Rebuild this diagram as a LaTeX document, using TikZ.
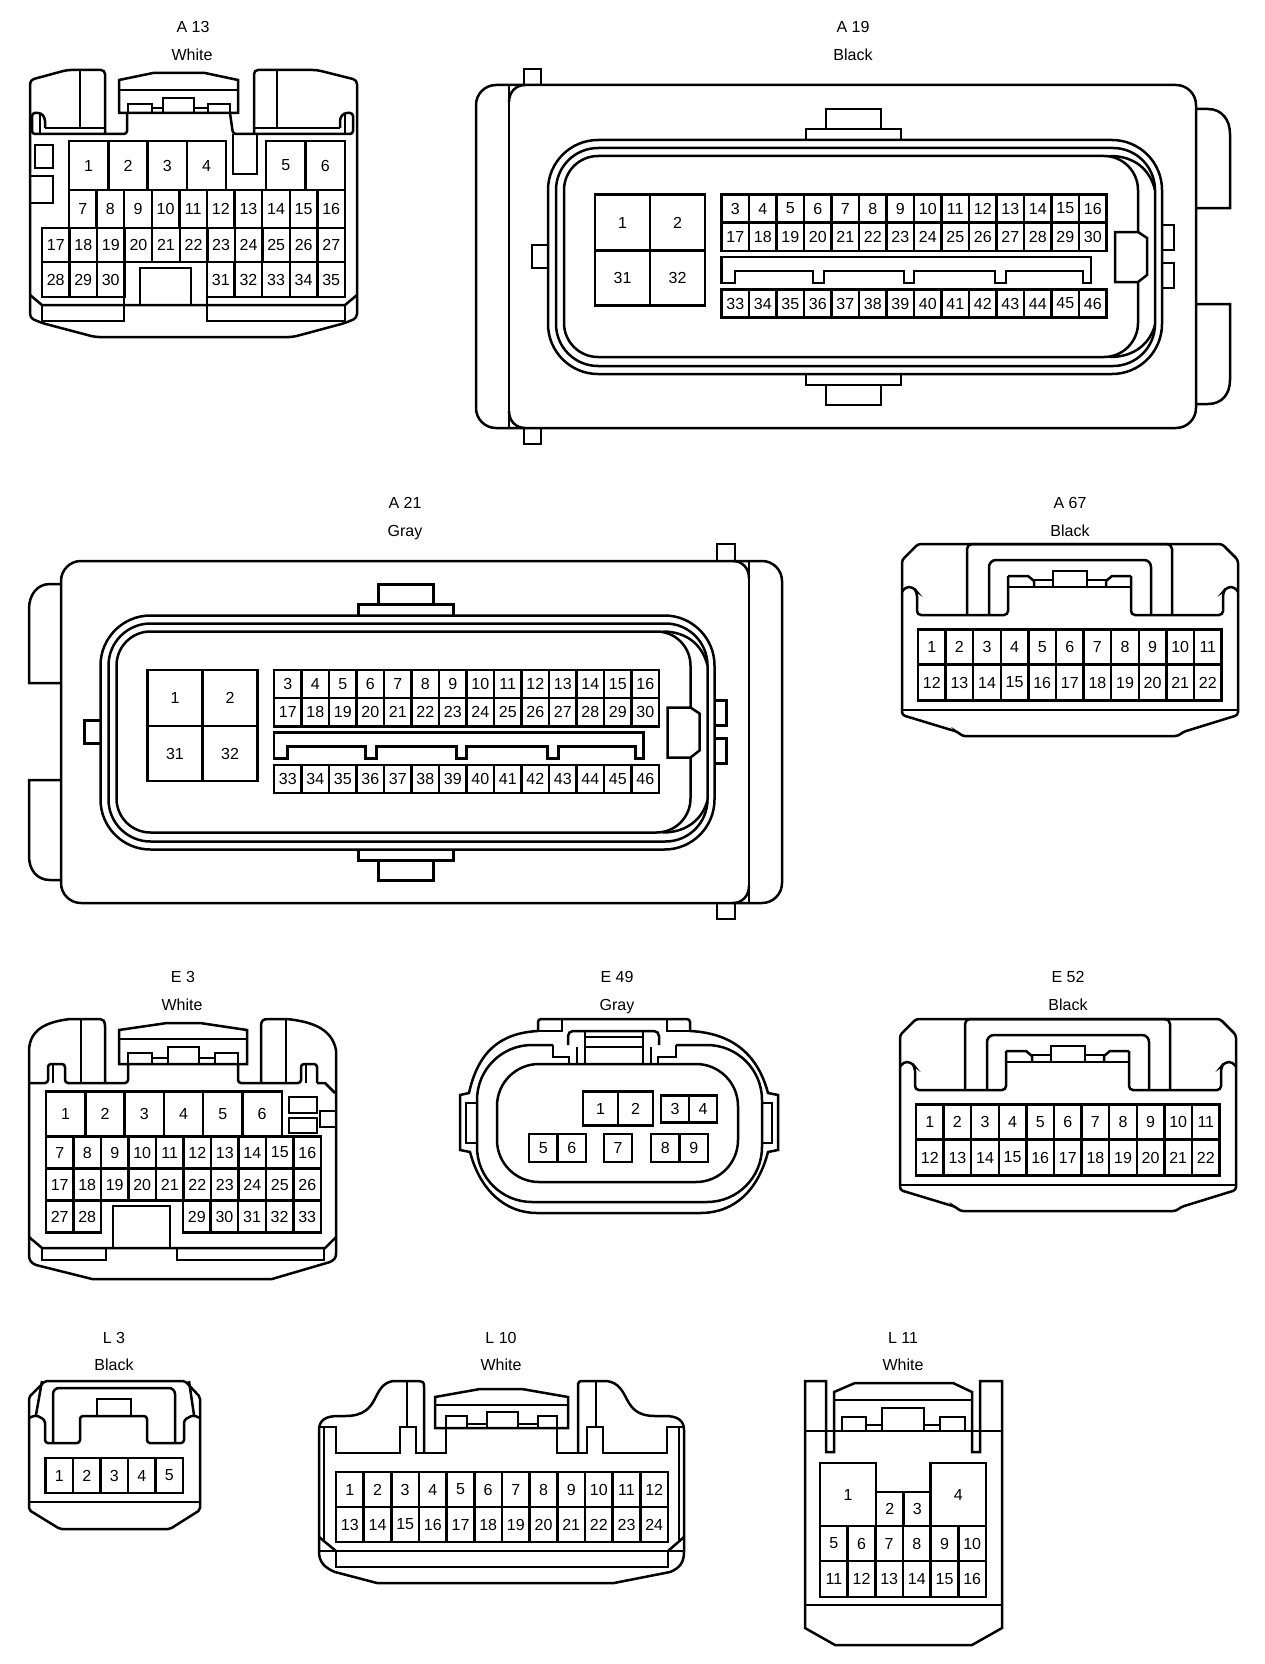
\documentclass[tikz,border=0pt]{standalone}
\usepackage{fontspec}
\setmainfont{Liberation Sans}
\usetikzlibrary{positioning}

\tikzset{
    pin/.style={draw, rectangle, inner sep=0pt, outer sep=0pt, font=\fontsize{16}{18}\selectfont},
    conname/.style={inner sep=0pt, text height=11.5pt, text depth=0pt, font=\fontsize{16}{18}\selectfont},
}

% one row of cavities: prefix, left, top, cell width, cell height, numbers
\newcommand{\pinrow}[6]{%
    \foreach \n [count=\i from 0] in {#6} {
        \node[pin, minimum width=#4pt, minimum height=#5pt] (#1-\n) at ({#2+(\i+0.5)*#4},{#3+0.5*#5}) {\n};
    }%
}

% seal, keys and cavities shared by A 19 and A 21
\newcommand{\sealblock}[1]{%
    \draw (806,140) -- (806,129) -- (901,129) -- (901,140);
    \draw (826,129) -- (826,109) -- (881,109) -- (881,129);
    \draw (806,374) -- (806,385) -- (901,385) -- (901,374);
    \draw (826,385) -- (826,405) -- (881,405) -- (881,385);
    \draw[rounded corners=50pt] (548,140) rectangle (1162,374);
    \draw[rounded corners=42pt] (556,148) rectangle (1155,366);
    \draw[rounded corners=34pt] (1138,232) -- (1138,156) -- (564,156) -- (564,357) -- (1138,357) -- (1138,282);
    \draw (1110,156) .. controls (1135,156) and (1150,170) .. (1155,190);
    \draw (1110,357) .. controls (1135,357) and (1150,343) .. (1155,325);
    \draw (1138,232) -- (1115,232) -- (1115,282) -- (1138,282) -- (1147,275) -- (1147,238) -- cycle;
    \draw (548,245) -- (532,245) -- (532,268) -- (548,268);
    \draw (1162,225) -- (1174,225) -- (1174,250) -- (1162,250);
    \draw (1162,263) -- (1174,263) -- (1174,288) -- (1162,288);
    \pinrow{#1}{595}{194.5}{55}{56}{1,2}
    \pinrow{#1}{595}{250.5}{55}{55}{31,32}
    \pinrow{#1}{721.5}{194.5}{27.5}{28}{3,4,5,6,7,8,9,10,11,12,13,14,15,16}
    \pinrow{#1}{721.5}{222.5}{27.5}{28.5}{17,18,19,20,21,22,23,24,25,26,27,28,29,30}
    \pinrow{#1}{721.5}{289.5}{27.5}{28}{33,34,35,36,37,38,39,40,41,42,43,44,45,46}
    \draw (721.5,257) -- (1091,257) -- (1091,283) -- (1083,283) -- (1083,271) -- (1006,271) -- (1006,283) -- (995,283) -- (995,271) -- (914,271) -- (914,283) -- (904,283) -- (904,271) -- (824,271) -- (824,283) -- (813,283) -- (813,271) -- (735,271) -- (735,283) -- (721.5,283) -- cycle;
}

% body of the 22 way connector, A 67 and E 52
\newcommand{\twentytwo}[1]{%
    \draw[rounded corners=3pt] (902,560) -- (918,544) -- (1222,544) -- (1238,560) -- (1238,715) -- (1183,732) -- (1178,736) -- (962,736) -- (958,732) -- (902,715) -- cycle;
    \draw[rounded corners=4pt] (902,592) -- (905,587) -- (913,587) -- (917,592) -- (917,615) -- (1008,615) -- (1008,576);
    \draw[rounded corners=4pt] (1131,576) -- (1131,615) -- (1223,615) -- (1223,592) -- (1227,587) -- (1235,587) -- (1238,592);
    \draw (1008,587) -- (1131,587);
    \draw (1008,576) -- (1028,576) -- (1034,581) -- (1034,587);
    \draw (1034,580) -- (1053,580);
    \draw (1053,587) -- (1053,571) -- (1087,571) -- (1087,587);
    \draw (1087,580) -- (1106,580);
    \draw (1106,587) -- (1106,581) -- (1112,576) -- (1131,576);
    \draw[rounded corners=5pt] (967,615) -- (967,544) -- (1172,544) -- (1172,615);
    \draw[rounded corners=7pt] (989,615) -- (989,560) -- (1151,560) -- (1151,615);
    \draw (902,710) -- (1238,710);
    \pinrow{#1}{918}{629.5}{27.6}{35}{1,2,3,4,5,6,7,8,9,10,11}
    \pinrow{#1}{918}{664.5}{27.6}{36}{12,13,14,15,16,17,18,19,20,21,22}
}

\begin{document}
\begin{tikzpicture}[x=1pt, y=-1pt, line width=2.5pt, line join=miter]

    \useasboundingbox (0,0) rectangle (1264,1664);

    % A 13
    \node[conname] (a13name) at (193,27) {A 13};
    \node[conname] (a13color) at (192,55) {White};
    \draw[rounded corners=4pt] (105,133) -- (105,70) -- (67,70) -- (30,80) -- (30,318) -- (42,323) -- (95,337) -- (293,337) -- (345,323) -- (357,318) -- (357,80) -- (317,70) -- (254,70) -- (254,133);
    \draw (80,71) -- (80,128);
    \draw (277,71) -- (277,128);
    \draw (45,128) -- (105,128);
    \draw (254,128) -- (340,128);
    \draw[rounded corners=3pt] (45,128) -- (45,118) -- (41,113) -- (32,113) -- (32,134) -- (127,134) -- (127,113);
    \draw (40,113) -- (40,134);
    \draw[rounded corners=3pt] (340,128) -- (340,118) -- (344,113) -- (353,113) -- (353,134) -- (233,134) -- (230,113);
    \draw (345,113) -- (345,134);
    \draw (119,113) -- (119,80) -- (153,73) -- (205,73) -- (238,80) -- (238,113) -- cycle;
    \draw (119,90) -- (238,90);
    \draw (128,113) -- (128,104) -- (152,104) -- (152,113);
    \draw (152,108) -- (163,108);
    \draw (163,113) -- (163,98) -- (194,98) -- (194,113);
    \draw (194,108) -- (208,108);
    \draw (208,113) -- (208,104) -- (230,104) -- (230,113);
    \draw (233,134) -- (233,174) -- (257,174) -- (257,134);
    \draw (35,145) rectangle (53,168);
    \draw (30,176) -- (53,176) -- (53,203) -- (30,203);
    \pinrow{a13}{69}{141}{39.3}{49}{1,2,3,4}
    \pinrow{a13}{266}{141}{39.5}{49}{5,6}
    \pinrow{a13}{69}{190}{27.6}{38}{7,8,9,10,11,12,13,14,15,16}
    \pinrow{a13}{42}{228}{27.55}{34}{17,18,19,20,21,22,23,24,25,26,27}
    \pinrow{a13}{42}{262}{27.5}{35}{28,29,30}
    \pinrow{a13}{207}{262}{27.6}{35}{31,32,33,34,35}
    \draw (30,295) -- (42,305) -- (345,305) -- (357,295);
    \draw (140,305) -- (140,268) -- (191,268) -- (191,305);
    \draw (42,305) -- (42,321) -- (124,321) -- (124,297);
    \draw (207,297) -- (207,321) -- (345,321) -- (345,305);

    % A 19
    \node[conname] (a19name) at (853,27) {A 19};
    \node[conname] (a19color) at (853,55) {Black};
    \draw[rounded corners=20pt] (476,85) rectangle (1196,428);
    \draw (509,85) -- (509,428);
    \draw (525,85) .. controls (516,85) and (509,92) .. (509,102);
    \draw (525,428) .. controls (516,428) and (509,421) .. (509,411);
    \draw (524,85) -- (524,69) -- (541,69) -- (541,85);
    \draw (524,428) -- (524,444) -- (541,444) -- (541,428);
    \draw (1196,109) -- (1208,109) .. controls (1222,109) and (1230,120) .. (1230,134) -- (1230,208) -- (1196,208);
    \draw (1196,304) -- (1230,304) -- (1230,380) .. controls (1230,394) and (1222,404) .. (1208,404) -- (1196,404);
    \begin{scope}
        \sealblock{a19}
    \end{scope}

    % A 21
    \node[conname] (a21name) at (405,503) {A 21};
    \node[conname] (a21color) at (405,531) {Gray};
    \draw[rounded corners=20pt] (61,561) rectangle (782,903);
    \draw (749,561) -- (749,903);
    \draw (733,561) .. controls (742,561) and (749,568) .. (749,578);
    \draw (733,903) .. controls (742,903) and (749,896) .. (749,886);
    \draw (717,561) -- (717,544) -- (735,544) -- (735,561);
    \draw (717,903) -- (717,919) -- (735,919) -- (735,903);
    \draw (61,584) -- (50,584) .. controls (37,584) and (29,595) .. (29,609) -- (29,683) -- (61,683);
    \draw (61,780) -- (29,780) -- (29,856) .. controls (29,870) and (37,880) .. (50,880) -- (61,880);
    \begin{scope}[shift={(-447.5,475.5)}]
        \sealblock{a21}
    \end{scope}

    % A 67
    \node[conname] (a67name) at (1070,503) {A 67};
    \node[conname] (a67color) at (1070,531) {Black};
    \begin{scope}
        \twentytwo{a67}
    \end{scope}

    % E 3
    \node[conname] (e3name) at (183,977) {E 3};
    \node[conname] (e3color) at (182,1005) {White};
    \draw (105,1083) -- (105,1026) .. controls (105,1021) and (103,1019) .. (100,1019) -- (70,1019) .. controls (45,1022) and (30,1030) .. (29,1050) -- (29,1255) .. controls (29,1260) and (31,1263) .. (36,1265) -- (92,1279) -- (272,1279) -- (330,1262) .. controls (334,1260) and (336,1258) .. (336,1254) -- (336,1050) .. controls (332,1030) and (315,1022) .. (287,1019) -- (268,1019) .. controls (263,1019) and (261,1021) .. (261,1026) -- (261,1083);
    \draw (81,1020) -- (81,1083);
    \draw (286,1020) -- (286,1083);
    \draw[rounded corners=3pt] (29,1083) -- (48,1083) -- (48,1064) -- (65,1064) -- (65,1083) -- (128,1083) -- (128,1064);
    \draw (53,1064) -- (53,1083);
    \draw[rounded corners=3pt] (238,1064) -- (238,1083) -- (301,1083) -- (301,1064) -- (317,1064) -- (317,1083);
    \draw (306,1064) -- (306,1083);
    \draw (317,1083) -- (325,1083) -- (335,1093);
    \draw (119,1064) -- (119,1030) -- (167,1023) -- (200,1023) -- (247,1030) -- (247,1064) -- cycle;
    \draw (119,1039) -- (247,1039);
    \draw (128,1064) -- (128,1053) -- (152,1053) -- (152,1064);
    \draw (152,1058) -- (168,1058);
    \draw (168,1064) -- (168,1047) -- (199,1047) -- (199,1064);
    \draw (199,1058) -- (215,1058);
    \draw (215,1064) -- (215,1053) -- (238,1053) -- (238,1064);
    \draw (289,1097) rectangle (317,1113);
    \draw (289,1118) rectangle (317,1133);
    \draw (336,1111) -- (320,1111) -- (320,1127) -- (336,1127);
    \pinrow{e3}{46}{1091.5}{39.3}{45}{1,2,3,4,5,6}
    \pinrow{e3}{46}{1136.5}{27.5}{32}{7,8,9,10,11,12,13,14,15,16}
    \pinrow{e3}{46}{1168.5}{27.5}{32}{17,18,19,20,21,22,23,24,25,26}
    \pinrow{e3}{46}{1200.5}{27.5}{32}{27,28}
    \pinrow{e3}{183}{1200.5}{27.6}{32}{29,30,31,32,33}
    \draw (29,1237) -- (42,1248) -- (325,1248) -- (336,1237);
    \draw (113,1248) -- (113,1206) -- (170,1206) -- (170,1248);
    \draw (42,1248) -- (42,1260) -- (106,1260) -- (106,1248);
    \draw (177,1248) -- (177,1260) -- (324,1260) -- (324,1248);

    % E 49
    \node[conname] (e49name) at (617,977) {E 49};
    \node[conname] (e49color) at (617,1005) {Gray};
    \draw[rounded corners=3pt] (538,1031) -- (538,1019) -- (690,1019) -- (690,1031);
    \draw (538,1031) -- (562,1031) -- (562,1019);
    \draw (690,1031) -- (667,1031) -- (667,1019);
    \draw (538,1031) .. controls (500,1033) and (478,1052) .. (469,1093) -- (460,1095) -- (460,1150) -- (470,1152) .. controls (480,1190) and (505,1213) .. (537,1213) -- (700,1213) .. controls (735,1213) and (758,1190) .. (768,1152) -- (778,1150) -- (778,1095) -- (768,1093) .. controls (757,1052) and (730,1033) .. (690,1031);
    \draw[rounded corners=55pt] (553,1045) -- (477,1045) -- (477,1202) -- (762,1202) -- (762,1045) -- (676,1045);
    \draw (476,1103) -- (466,1103) -- (466,1143) -- (476,1143);
    \draw (762,1103) -- (772,1103) -- (772,1143) -- (762,1143);
    \draw[rounded corners=42pt] (497,1064) rectangle (738,1182);
    \draw[rounded corners=5pt] (568,1045) -- (568,1031) -- (659,1031) -- (659,1045);
    \draw (585,1031) -- (585,1064);
    \draw (643,1031) -- (643,1064);
    \draw (585,1037) -- (643,1037);
    \draw (585,1047) -- (643,1047);
    \draw (577,1047) -- (577,1064);
    \draw (651,1047) -- (651,1064);
    \draw (553,1045) -- (553,1057) -- (569,1057) -- (569,1064);
    \draw (676,1045) -- (676,1057) -- (658,1057) -- (658,1064);
    \pinrow{e49}{583}{1091.5}{35}{34}{1,2}
    \pinrow{e49}{661}{1095.5}{28}{27}{3,4}
    \pinrow{e49}{529}{1134}{28.5}{28}{5,6}
    \pinrow{e49}{604}{1134}{28}{28}{7}
    \pinrow{e49}{651}{1134}{28.5}{28}{8,9}

    % E 52
    \node[conname] (e52name) at (1068,977) {E 52};
    \node[conname] (e52color) at (1068,1005) {Black};
    \begin{scope}[shift={(-2,475)}]
        \twentytwo{e52}
    \end{scope}

    % L 3
    \node[conname] (l3name) at (114,1338) {L 3};
    \node[conname] (l3color) at (114,1365) {Black};
    \draw[rounded corners=2pt] (29,1397) -- (45,1381) -- (185,1381) -- (200,1397) -- (200,1510) -- (170,1529) -- (60,1529) -- (29,1510) -- cycle;
    \draw (29,1502) -- (200,1502);
    \draw[rounded corners=3pt] (29,1418) -- (36,1415) -- (45,1420) -- (45,1443) -- (80,1443) -- (80,1416) -- (147,1416) -- (147,1443) -- (184,1443) -- (184,1420) -- (193,1415) -- (200,1418);
    \draw (97,1416) -- (97,1399) -- (131,1399) -- (131,1416);
    \draw[rounded corners=6pt] (53,1443) -- (53,1388) -- (175,1388) -- (175,1443);
    \draw (42,1381) -- (36,1415);
    \draw (189,1381) -- (194,1415);
    \pinrow{l3}{45.5}{1458}{27.5}{35}{1,2,3,4,5}

    % L 10
    \node[conname] (l10name) at (501,1338) {L 10};
    \node[conname] (l10color) at (501,1365) {White};
    \draw (424,1453) -- (424,1386) .. controls (424,1382) and (422,1381) .. (419,1381) -- (393,1381) .. controls (370,1385) and (382,1416) .. (345,1416) -- (338,1416) .. controls (326,1416) and (319,1420) .. (319,1430) -- (319,1552) .. controls (319,1562) and (325,1568) .. (335,1572) -- (377,1583) -- (614,1583) -- (670,1572) .. controls (680,1568) and (684,1562) .. (684,1552) -- (684,1430) .. controls (684,1420) and (677,1416) .. (665,1416) -- (655,1416) .. controls (620,1416) and (632,1385) .. (607,1381) -- (583,1381) .. controls (579,1381) and (578,1382) .. (578,1386) -- (578,1453);
    \draw (407,1381) -- (407,1427);
    \draw (596,1381) -- (596,1427);
    \draw (319,1427) -- (336,1427) -- (336,1453) -- (400,1453) -- (400,1427) -- (416,1427) -- (416,1453) -- (446,1453) -- (446,1428);
    \draw (557,1428) -- (557,1453) -- (587,1453) -- (587,1427) -- (603,1427) -- (603,1453) -- (667,1453) -- (667,1427) -- (684,1427);
    \draw (324,1427) -- (324,1540);
    \draw (679,1427) -- (679,1540);
    \draw (435,1428) -- (435,1397) -- (480,1389) -- (522,1389) -- (568,1397) -- (568,1428) -- cycle;
    \draw (435,1405) -- (568,1405);
    \draw (446,1428) -- (446,1416) -- (467,1416) -- (467,1428);
    \draw (467,1424) -- (487,1424);
    \draw (487,1428) -- (487,1412) -- (518,1412) -- (518,1428);
    \draw (518,1424) -- (538,1424);
    \draw (538,1428) -- (538,1416) -- (557,1416) -- (557,1428);
    \pinrow{l10}{336}{1472}{27.67}{35}{1,2,3,4,5,6,7,8,9,10,11,12}
    \pinrow{l10}{336}{1507}{27.67}{35}{13,14,15,16,17,18,19,20,21,22,23,24}
    \draw (319,1551) -- (684,1551);
    \draw (336,1551) -- (336,1567) -- (668,1567) -- (668,1551);
    \draw (319,1537) -- (336,1551);
    \draw (684,1537) -- (668,1551);

    % L 11
    \node[conname] (l11name) at (903,1338) {L 11};
    \node[conname] (l11color) at (903,1365) {White};
    \draw (826,1452) -- (826,1381) -- (805,1381) -- (805,1628) -- (835,1645) -- (972,1645) -- (1002,1628) -- (1002,1381) -- (980,1381) -- (980,1452) -- (972,1452) -- (972,1392) -- (953,1383) -- (855,1383) -- (834,1392) -- (834,1452) -- cycle;
    \draw (834,1400) -- (972,1400);
    \draw (805,1431) -- (1002,1431);
    \draw (842,1431) -- (842,1417) -- (866,1417) -- (866,1431);
    \draw (866,1425) -- (882,1425);
    \draw (882,1431) -- (882,1408) -- (924,1408) -- (924,1431);
    \draw (924,1425) -- (940,1425);
    \draw (940,1431) -- (940,1417) -- (965,1417) -- (965,1431);
    \pinrow{l11}{820}{1463}{56}{63}{1}
    \pinrow{l11}{930.5}{1463}{55.5}{63}{4}
    \pinrow{l11}{876}{1492}{27.5}{34}{2,3}
    \pinrow{l11}{820}{1526}{27.67}{35}{5,6,7,8,9,10}
    \pinrow{l11}{820}{1561}{27.67}{36}{11,12,13,14,15,16}
    \draw (805,1605) -- (1002,1605);

\end{tikzpicture}
\end{document}
